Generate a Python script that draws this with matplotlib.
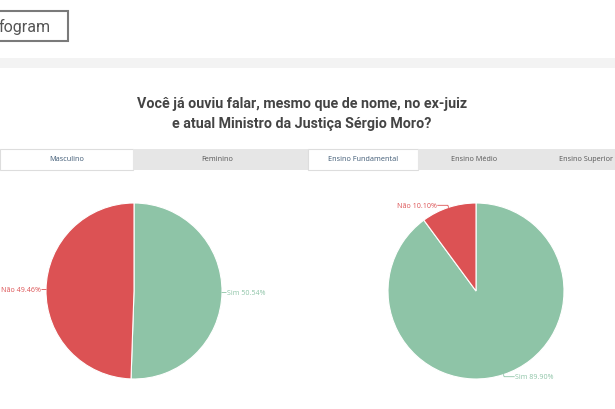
import numpy as np
import matplotlib.pyplot as plt
from matplotlib.patches import Rectangle

W, H = 615, 410

title = "Você já ouviu falar, mesmo que de nome, no ex-juiz\ne atual Ministro da Justiça Sérgio Moro?"
tabs_left = ["Masculino", "Feminino"]
tabs_right = ["Ensino Fundamental", "Ensino Médio", "Ensino Superior"]

labels = ["Sim", "Não"]
values_masc = [50.54, 49.46]
values_fund = [89.90, 10.10]
colors = ["#8ec4a7", "#dc5254"]

fig = plt.figure(figsize=(W / 100, H / 100), dpi=100)
fig.patch.set_facecolor("white")


def fx(x):
    return x / W


def fy(y):
    return 1 - y / H


def rect(x0, y0, x1, y1, fc, ec="none", lw=0):
    fig.patches.append(Rectangle((fx(x0), fy(y1)), fx(x1) - fx(x0), fy(y0) - fy(y1),
                                 transform=fig.transFigure, facecolor=fc,
                                 edgecolor=ec, linewidth=lw, zorder=0))


# logo box + gray band
rect(-5, 12, 68, 42, "white", "#7a7a7a", 1.5)
fig.text(fx(-1), fy(27), "fogram", fontsize=11.5, color="#555555",
         family="Roboto", va="center", ha="left")
rect(0, 59, 615, 69, "#f3f3f3")

fig.text(fx(302), fy(114), title, fontsize=10.3, fontweight="bold", color="#444444",
         family="Roboto", ha="center", va="center", linespacing=1.55)

# tabs
left_edges = [0, 133, 302]
for i, name in enumerate(tabs_left):
    active = i == 0
    rect(left_edges[i], 150, left_edges[i + 1], 171,
         "white" if active else "#e6e6e6", "#dddddd" if active else "none", 0.8)
    fig.text(fx((left_edges[i] + left_edges[i + 1]) / 2), fy(160), name, fontsize=5.2,
             color="#3d5873" if active else "#555555", family="Open Sans",
             ha="center", va="center")
right_edges = [308, 418, 530, 645]
rect(302, 150, 308, 171, "#e6e6e6")
for i, name in enumerate(tabs_right):
    active = i == 0
    rect(right_edges[i], 150, right_edges[i + 1], 171,
         "white" if active else "#e6e6e6", "#dddddd" if active else "none", 0.8)
    cx = (right_edges[i] + right_edges[i + 1]) / 2
    if i == 2:
        cx = 586
    fig.text(fx(cx), fy(160), name, fontsize=5.2,
             color="#3d5873" if active else "#555555", family="Open Sans",
             ha="center", va="center")


def draw_pie(cx, cy, r, values):
    ax = fig.add_axes([fx(cx - r), fy(cy + r), fx(2 * r), (2 * r) / H])
    wedges, _ = ax.pie(values, colors=colors, startangle=90, counterclock=False,
                       radius=1.0, wedgeprops=dict(edgecolor="white", linewidth=0.8))
    ax.set_xlim(-1, 1)
    ax.set_ylim(-1, 1)
    ax.set_aspect("equal")
    for w, lab, v, c in zip(wedges, labels, values, colors):
        ang = np.deg2rad((w.theta1 + w.theta2) / 2)
        ca, sa = np.cos(ang), np.sin(ang)
        sign = 1 if ca >= 0 else -1
        elbow = (1.025 * ca, 1.025 * sa)
        end = (elbow[0] + sign * (0.02 + 0.1 * abs(sa)), elbow[1])
        ax.plot([ca, elbow[0], end[0]], [sa, elbow[1], end[1]], color=c,
                lw=0.6, clip_on=False)
        ax.text(end[0] + sign * 0.01, end[1], f"{lab} {v:.2f}%", color=c,
                fontsize=5.1, family="Open Sans",
                ha="left" if sign > 0 else "right", va="center")
    ax.axis("off")


draw_pie(134, 292, 88, values_masc)
draw_pie(476, 292, 88, values_fund)

fig.savefig("out.png", dpi=100)
